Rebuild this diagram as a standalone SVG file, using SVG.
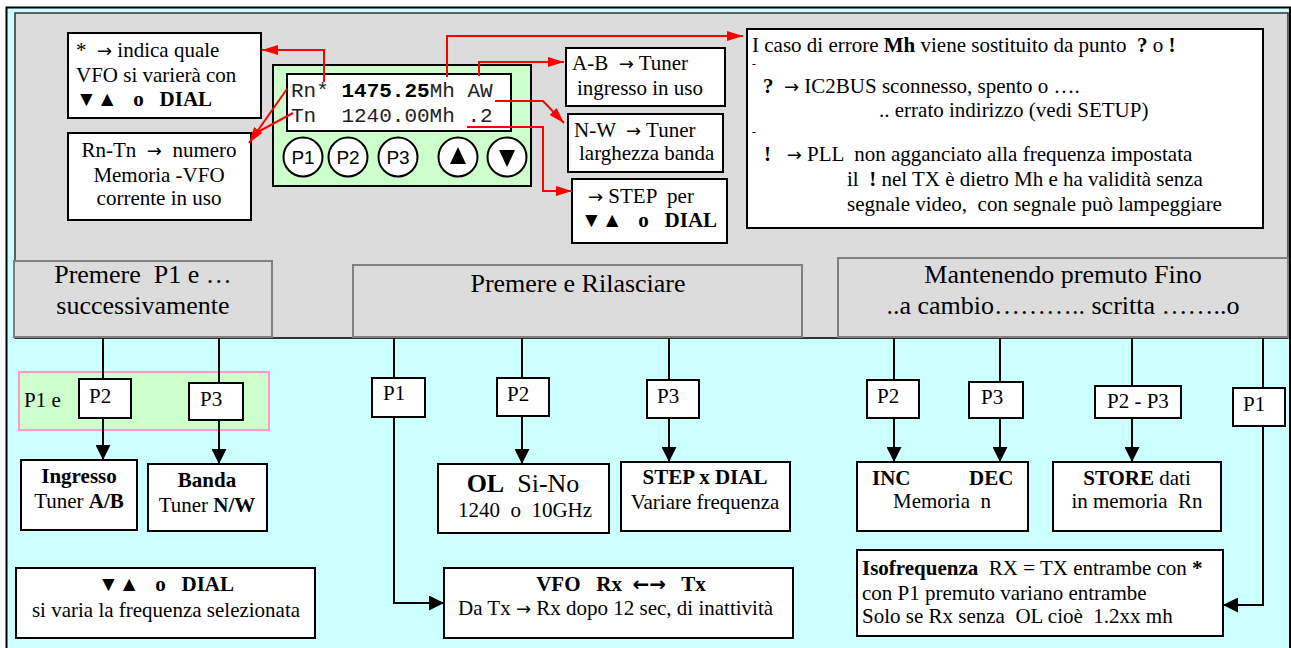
<svg xmlns="http://www.w3.org/2000/svg" width="1291" height="648" viewBox="0 0 1291 648">
<style>
.t{font-family:"Liberation Serif","Times New Roman",serif;font-size:21px;fill:#000}
.h{font-family:"Liberation Serif","Times New Roman",serif;font-size:26px;fill:#000}
.m{font-family:"Liberation Mono","Courier New",monospace;font-size:21px;fill:#222}
.s{font-family:"Liberation Sans",Arial,sans-serif;font-size:19px;fill:#000}
.ar{font-family:"DejaVu Sans",sans-serif;font-size:18px}
.b{font-weight:bold}
.c{text-anchor:middle}
.box{fill:#fff;stroke:#000;stroke-width:2}
.hdr{fill:#dcdcdc;stroke:#808080;stroke-width:2}
.btn{fill:#fff;stroke:#000;stroke-width:2}
.red{fill:none;stroke:#f00;stroke-width:2}
.blk{fill:none;stroke:#000;stroke-width:2}
.dash{font-family:"Liberation Serif",serif;font-size:12px}
</style>
<defs>
<marker id="ra" markerUnits="userSpaceOnUse" markerWidth="16" markerHeight="10" refX="16" refY="5" orient="auto"><path d="M0,0 L16,5 L0,10 z" fill="#f00"/></marker>
<marker id="ba" markerUnits="userSpaceOnUse" markerWidth="15" markerHeight="15" refX="15" refY="7.5" orient="auto"><path d="M0,0 L15,7.5 L0,15 z" fill="#000"/></marker>
</defs>
<rect x="6.5" y="7.5" width="1283.5" height="660" fill="#ccffff" stroke="#000" stroke-width="2"/>
<rect x="15" y="13" width="1273" height="325" fill="#dcdcdc" stroke="#333" stroke-width="1.5"/>
<line x1="15" y1="338" x2="1288" y2="338" stroke="#333" stroke-width="2"/>

<g id="note-star">
<rect class="box" x="68" y="33" width="193" height="85"/>
<text class="t" x="76" y="57" xml:space="preserve">*  <tspan class="ar">→</tspan> indica quale</text>
<text class="t" x="76" y="82">VFO si varierà con</text>
<text class="t b" x="76" y="106" xml:space="preserve">▼▲   o   DIAL</text>
</g>
<g id="note-rntn">
<rect class="box" x="68" y="133" width="183" height="87"/>
<text class="t c" x="159" y="157" xml:space="preserve">Rn-Tn  <tspan class="ar">→</tspan>  numero</text>
<text class="t c" x="159" y="182">Memoria -VFO</text>
<text class="t c" x="159" y="205">corrente in uso</text>
</g>
<g id="display">
<rect x="273" y="65" width="258" height="121" fill="#ccffcc" stroke="#000" stroke-width="2"/>
<rect x="287" y="74" width="224" height="57" fill="#fff" stroke="#000" stroke-width="2"/>
<text class="m" x="291" y="97" xml:space="preserve">Rn* <tspan class="b" fill="#000">1475.25</tspan>Mh AW</text>
<text class="m" x="291" y="122" xml:space="preserve">Tn  1240.00Mh .2</text>
<circle class="btn" cx="303" cy="157" r="19.5"/><text class="s c" x="303" y="164">P1</text>
<circle class="btn" cx="348" cy="157" r="19.5"/><text class="s c" x="348" y="164">P2</text>
<circle class="btn" cx="398" cy="157" r="19.5"/><text class="s c" x="398" y="164">P3</text>
<circle class="btn" cx="458" cy="157" r="19.5"/><path d="M458,147 L466,164 L450,164 z" fill="#000"/>
<circle class="btn" cx="507" cy="157" r="19.5"/><path d="M507,167 L515,150 L499,150 z" fill="#000"/>
</g>
<g id="note-ab">
<rect class="box" x="566" y="48" width="159" height="58"/>
<text class="t" x="572" y="70" xml:space="preserve">A-B  <tspan class="ar">→</tspan> Tuner</text>
<text class="t" x="577" y="95">ingresso in uso</text>
</g>
<g id="note-nw">
<rect class="box" x="568" y="114" width="155" height="58"/>
<text class="t" x="574" y="137" xml:space="preserve">N-W  <tspan class="ar">→</tspan> Tuner</text>
<text class="t" x="579" y="160">larghezza banda</text>
</g>
<g id="note-step">
<rect class="box" x="572" y="179" width="155" height="64"/>
<text class="t" x="588" y="203" xml:space="preserve"><tspan class="ar">→</tspan> STEP  per</text>
<text class="t b" x="581" y="227" xml:space="preserve">▼▲   o   DIAL</text>
</g>
<g id="note-error">
<rect class="box" x="747" y="29" width="516" height="199"/>
<text class="t" x="752" y="52" xml:space="preserve">I caso di errore <tspan class="b">Mh</tspan> viene sostituito da punto  <tspan class="b">?</tspan> o <tspan class="b">!</tspan></text>
<text class="dash" x="752" y="68">-</text>
<text class="t" x="763" y="93" xml:space="preserve"><tspan class="b">?</tspan>  <tspan class="ar">→</tspan> IC2BUS sconnesso, spento o ….</text>
<text class="t" x="879" y="117">.. errato indirizzo (vedi SETUP)</text>
<text class="dash" x="752" y="136">-</text>
<text class="t" x="764" y="161" xml:space="preserve"><tspan class="b">!</tspan>   <tspan class="ar">→</tspan> PLL  non agganciato alla frequenza impostata</text>
<text class="t" x="847" y="186" xml:space="preserve">il  <tspan class="b">!</tspan> nel TX è dietro Mh e ha validità senza</text>
<text class="t" x="847" y="211" xml:space="preserve">segnale video,  con segnale può lampeggiare</text>
</g>

<g id="hdr-p1">
<rect class="hdr" x="14" y="261" width="258" height="76"/>
<text class="h c" x="143" y="283" xml:space="preserve">Premere  P1 e …</text>
<text class="h c" x="143" y="314">successivamente</text>
</g>
<g id="hdr-press">
<rect class="hdr" x="353" y="265" width="449" height="72"/>
<text class="h c" x="578" y="292">Premere e Rilasciare</text>
</g>
<g id="hdr-hold">
<rect class="hdr" x="838" y="258" width="450" height="79"/>
<text class="h c" x="1063" y="283">Mantenendo premuto Fino</text>
<text class="h c" x="1063" y="314">..a cambio……….. scritta ……..o</text>
</g>

<g id="group-p1e">
<rect x="19" y="372" width="250" height="58" fill="#ccffcc" stroke="#ff99cc" stroke-width="2"/>
<text class="t" x="24" y="407">P1 e</text>
</g>
<g id="key-l-p2"><rect class="box" x="79" y="379" width="52" height="39"/><text class="t" x="89" y="403">P2</text></g>
<g id="key-l-p3"><rect class="box" x="189" y="383" width="54" height="37"/><text class="t" x="200" y="406">P3</text></g>
<g id="res-ingresso">
<rect class="box" x="21" y="460" width="116" height="70"/>
<text class="t b c" x="79" y="483">Ingresso</text>
<text class="t c" x="79" y="508">Tuner <tspan class="b">A/B</tspan></text>
</g>
<g id="res-banda">
<rect class="box" x="148" y="464" width="119" height="67"/>
<text class="t b c" x="207" y="487">Banda</text>
<text class="t c" x="207" y="512">Tuner <tspan class="b">N/W</tspan></text>
</g>
<g id="res-dial">
<rect class="box" x="16" y="568" width="299" height="70"/>
<text class="t b c" x="166" y="591" xml:space="preserve">▼▲   o   DIAL</text>
<text class="t c" x="166" y="617">si varia la frequenza selezionata</text>
</g>

<g id="key-m-p1"><rect class="box" x="372" y="378" width="53" height="39"/><text class="t" x="383" y="400">P1</text></g>
<g id="key-m-p2"><rect class="box" x="497" y="378" width="52" height="38"/><text class="t" x="507" y="401">P2</text></g>
<g id="key-m-p3"><rect class="box" x="647" y="380" width="52" height="38"/><text class="t" x="657" y="403">P3</text></g>
<g id="res-ol">
<rect class="box" x="438" y="464" width="171" height="69"/>
<text class="t c" x="523" y="492" style="font-size:26px" xml:space="preserve"><tspan class="b">OL</tspan>  Si-No</text>
<text class="t c" x="525" y="517" xml:space="preserve">1240  o  10GHz</text>
</g>
<g id="res-step">
<rect class="box" x="621" y="462" width="169" height="69"/>
<text class="t b c" x="705" y="484">STEP x DIAL</text>
<text class="t c" x="705" y="509">Variare frequenza</text>
</g>
<g id="res-vfo">
<rect class="box" x="444" y="568" width="349" height="70"/>
<text class="t b c" x="621" y="591" xml:space="preserve">VFO   Rx  <tspan class="ar" style="font-size:20px">←→</tspan>   Tx</text>
<text class="t" x="458" y="615" xml:space="preserve">Da Tx <tspan class="ar">→</tspan> Rx dopo 12 sec, di inattività</text>
</g>

<g id="key-r-p2"><rect class="box" x="867" y="380" width="52" height="38"/><text class="t" x="877" y="403">P2</text></g>
<g id="key-r-p3"><rect class="box" x="969" y="382" width="54" height="36"/><text class="t" x="981" y="404">P3</text></g>
<g id="key-r-p23"><rect class="box" x="1095" y="386" width="86" height="32"/><text class="t" x="1107" y="408">P2 - P3</text></g>
<g id="key-r-p1"><rect class="box" x="1233" y="388" width="52" height="38"/><text class="t" x="1243" y="411">P1</text></g>
<g id="res-incdec">
<rect class="box" x="857" y="462" width="171" height="69"/>
<text class="t b" x="872" y="485">INC</text>
<text class="t b" x="969" y="485">DEC</text>
<text class="t c" x="942" y="508" xml:space="preserve">Memoria  n</text>
</g>
<g id="res-store">
<rect class="box" x="1053" y="462" width="168" height="69"/>
<text class="t c" x="1137" y="485"><tspan class="b">STORE</tspan> dati</text>
<text class="t c" x="1137" y="508" xml:space="preserve">in memoria  Rn</text>
</g>
<g id="res-iso">
<rect class="box" x="857" y="550" width="366" height="86"/>
<text class="t" x="862" y="575" xml:space="preserve"><tspan class="b">Isofrequenza</tspan>  RX = TX entrambe con <tspan class="b">*</tspan></text>
<text class="t" x="862" y="600">con P1 premuto variano entrambe</text>
<text class="t" x="862" y="623" xml:space="preserve">Solo se Rx senza  OL cioè  1.2xx mh</text>
</g>

<g id="connectors">
<path class="red" d="M324,82 V50 H262" marker-end="url(#ra)"/>
<path class="red" d="M287,89 L249,143" marker-end="url(#ra)"/>
<path class="red" d="M293,113 L256,133"/>
<path class="red" d="M447,77 V36 H743" marker-end="url(#ra)"/>
<path class="red" d="M479,76 V62 H564" marker-end="url(#ra)"/>
<path class="red" d="M495,101 H543 L564,123" marker-end="url(#ra)"/>
<path class="red" d="M467,127 H543 V191 H572" marker-end="url(#ra)"/>

<path class="blk" d="M103,338 V379"/>
<path class="blk" d="M103,418 V460" marker-end="url(#ba)"/>
<path class="blk" d="M219,338 V383"/>
<path class="blk" d="M219,420 V464" marker-end="url(#ba)"/>

<path class="blk" d="M394,338 V378"/>
<path class="blk" d="M394,417 V603 H444" marker-end="url(#ba)"/>
<path class="blk" d="M522,338 V378"/>
<path class="blk" d="M522,416 V464" marker-end="url(#ba)"/>
<path class="blk" d="M669,338 V380"/>
<path class="blk" d="M669,418 V462" marker-end="url(#ba)"/>

<path class="blk" d="M894,338 V380"/>
<path class="blk" d="M894,418 V462" marker-end="url(#ba)"/>
<path class="blk" d="M1000,338 V382"/>
<path class="blk" d="M1000,418 V462" marker-end="url(#ba)"/>
<path class="blk" d="M1132,338 V386"/>
<path class="blk" d="M1132,418 V462" marker-end="url(#ba)"/>
<path class="blk" d="M1263,338 V388"/>
<path class="blk" d="M1263,426 V605 H1223" marker-end="url(#ba)"/>
</g>
</svg>
